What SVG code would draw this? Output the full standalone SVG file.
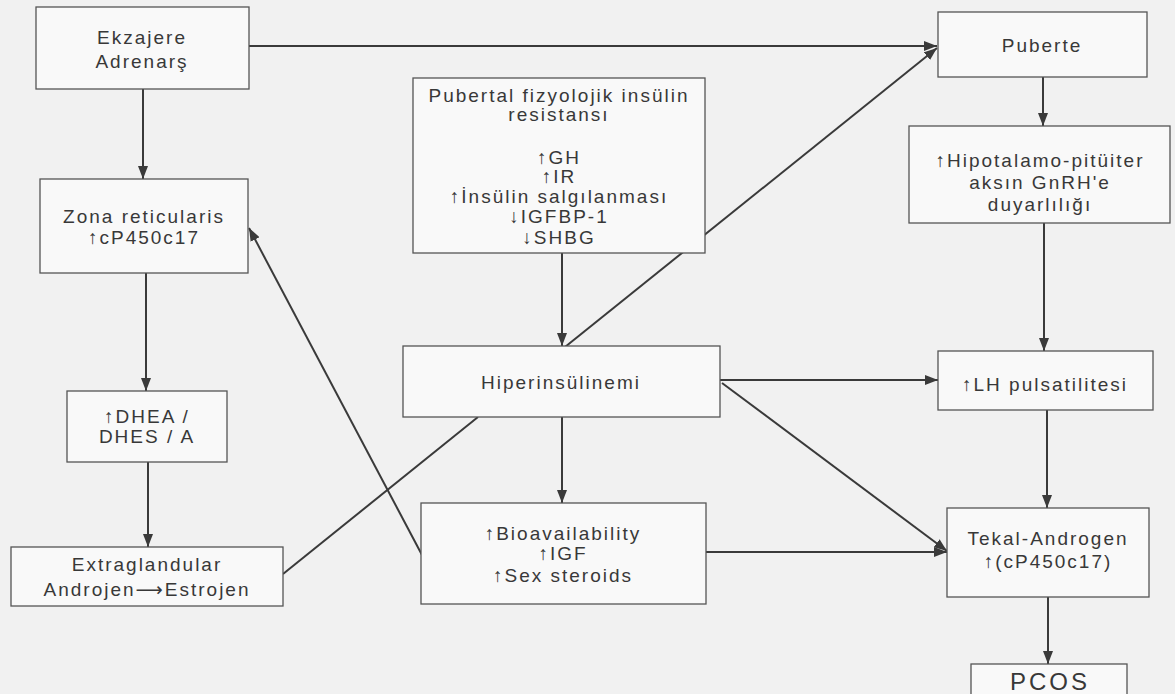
<svg xmlns="http://www.w3.org/2000/svg" width="1175" height="694" viewBox="0 0 1175 694">
<defs>
<marker id="ah" viewBox="0 0 13 10" refX="13" refY="5" markerWidth="13" markerHeight="10" markerUnits="userSpaceOnUse" orient="auto">
<path d="M0,0 L13,5 L0,10 z" fill="#3a3a3a"/>
</marker>
<style>
.bg{fill:#f1f1f1}
.box{fill:#f9f9f9;stroke:#555;stroke-width:1.3}
.t{font-family:"Liberation Sans",Arial,"DejaVu Sans",sans-serif;font-size:19px;fill:#383838;text-anchor:middle;letter-spacing:2px;dominant-baseline:central}
.big{font-size:24px;letter-spacing:3px}
.c line{stroke:#3a3a3a;stroke-width:2}
.a{marker-end:url(#ah)}
</style>
</defs>
<rect class="bg" x="0" y="0" width="1175" height="694"/>
<g id="connectors" class="c">
<line class="a" x1="249" y1="46" x2="937" y2="46"/>
<line class="a" x1="143" y1="89" x2="143" y2="179"/>
<line class="a" x1="146" y1="273" x2="146" y2="391"/>
<line class="a" x1="148" y1="462" x2="148" y2="547"/>
<line x1="283" y1="574" x2="478" y2="417"/>
<line class="a" x1="422" y1="555" x2="249" y2="228"/>
<line class="a" x1="562" y1="253" x2="562" y2="346"/>
<line class="a" x1="565" y1="347" x2="937" y2="48"/>
<line class="a" x1="562" y1="417" x2="562" y2="503"/>
<line class="a" x1="720" y1="380" x2="938" y2="380"/>
<line class="a" x1="722" y1="383" x2="947" y2="551"/>
<line class="a" x1="706" y1="552" x2="947" y2="552"/>
<line class="a" x1="1043" y1="77" x2="1043" y2="126"/>
<line class="a" x1="1044" y1="223" x2="1044" y2="351"/>
<line class="a" x1="1047" y1="410" x2="1047" y2="508"/>
<line class="a" x1="1048" y1="597" x2="1048" y2="664"/>
</g>
<g id="ekzajere">
<rect class="box" x="36" y="7" width="213" height="82"/>
<text class="t" x="142" y="37">Ekzajere</text>
<text class="t" x="142" y="61">Adrenarş</text>
</g>
<g id="zona">
<rect class="box" x="40" y="179" width="208" height="94"/>
<text class="t" x="144" y="216">Zona reticularis</text>
<text class="t" x="144" y="237">↑cP450c17</text>
</g>
<g id="dhea">
<rect class="box" x="67" y="391" width="160" height="71"/>
<text class="t" x="147" y="416">↑DHEA /</text>
<text class="t" x="147" y="436">DHES / A</text>
</g>
<g id="extraglandular">
<rect class="box" x="11" y="547" width="272" height="59"/>
<text class="t" x="147" y="564">Extraglandular</text>
<text class="t" x="147" y="589">Androjen⟶Estrojen</text>
</g>
<g id="pubertal">
<rect class="box" x="413" y="78" width="292" height="175"/>
<text class="t" x="559" y="95">Pubertal fizyolojik insülin</text>
<text class="t" x="559" y="114">resistansı</text>
<text class="t" x="559" y="157">↑GH</text>
<text class="t" x="559" y="176">↑IR</text>
<text class="t" x="559" y="196">↑İnsülin salgılanması</text>
<text class="t" x="559" y="216">↓IGFBP-1</text>
<text class="t" x="559" y="237">↓SHBG</text>
</g>
<g id="hiperinsulinemi">
<rect class="box" x="403" y="346" width="317" height="71"/>
<text class="t" x="561" y="382">Hiperinsülinemi</text>
</g>
<g id="bioavailability">
<rect class="box" x="421" y="503" width="285" height="101"/>
<text class="t" x="563" y="533">↑Bioavailability</text>
<text class="t" x="563" y="553">↑IGF</text>
<text class="t" x="563" y="575">↑Sex steroids</text>
</g>
<g id="puberte">
<rect class="box" x="938" y="12" width="209" height="65"/>
<text class="t" x="1042" y="45">Puberte</text>
</g>
<g id="hipotalamo">
<rect class="box" x="909" y="126" width="261" height="97"/>
<text class="t" x="1040" y="160">↑Hipotalamo-pitüiter</text>
<text class="t" x="1040" y="182">aksın GnRH'e</text>
<text class="t" x="1040" y="204">duyarlılığı</text>
</g>
<g id="lh">
<rect class="box" x="938" y="351" width="215" height="59"/>
<text class="t" x="1045" y="384">↑LH pulsatilitesi</text>
</g>
<g id="tekal">
<rect class="box" x="947" y="508" width="202" height="89"/>
<text class="t" x="1048" y="538">Tekal-Androgen</text>
<text class="t" x="1048" y="561">↑(cP450c17)</text>
</g>
<g id="pcos">
<rect class="box" x="971" y="664" width="156" height="40"/>
<text class="t big" x="1050" y="681">PCOS</text>
</g>
</svg>
